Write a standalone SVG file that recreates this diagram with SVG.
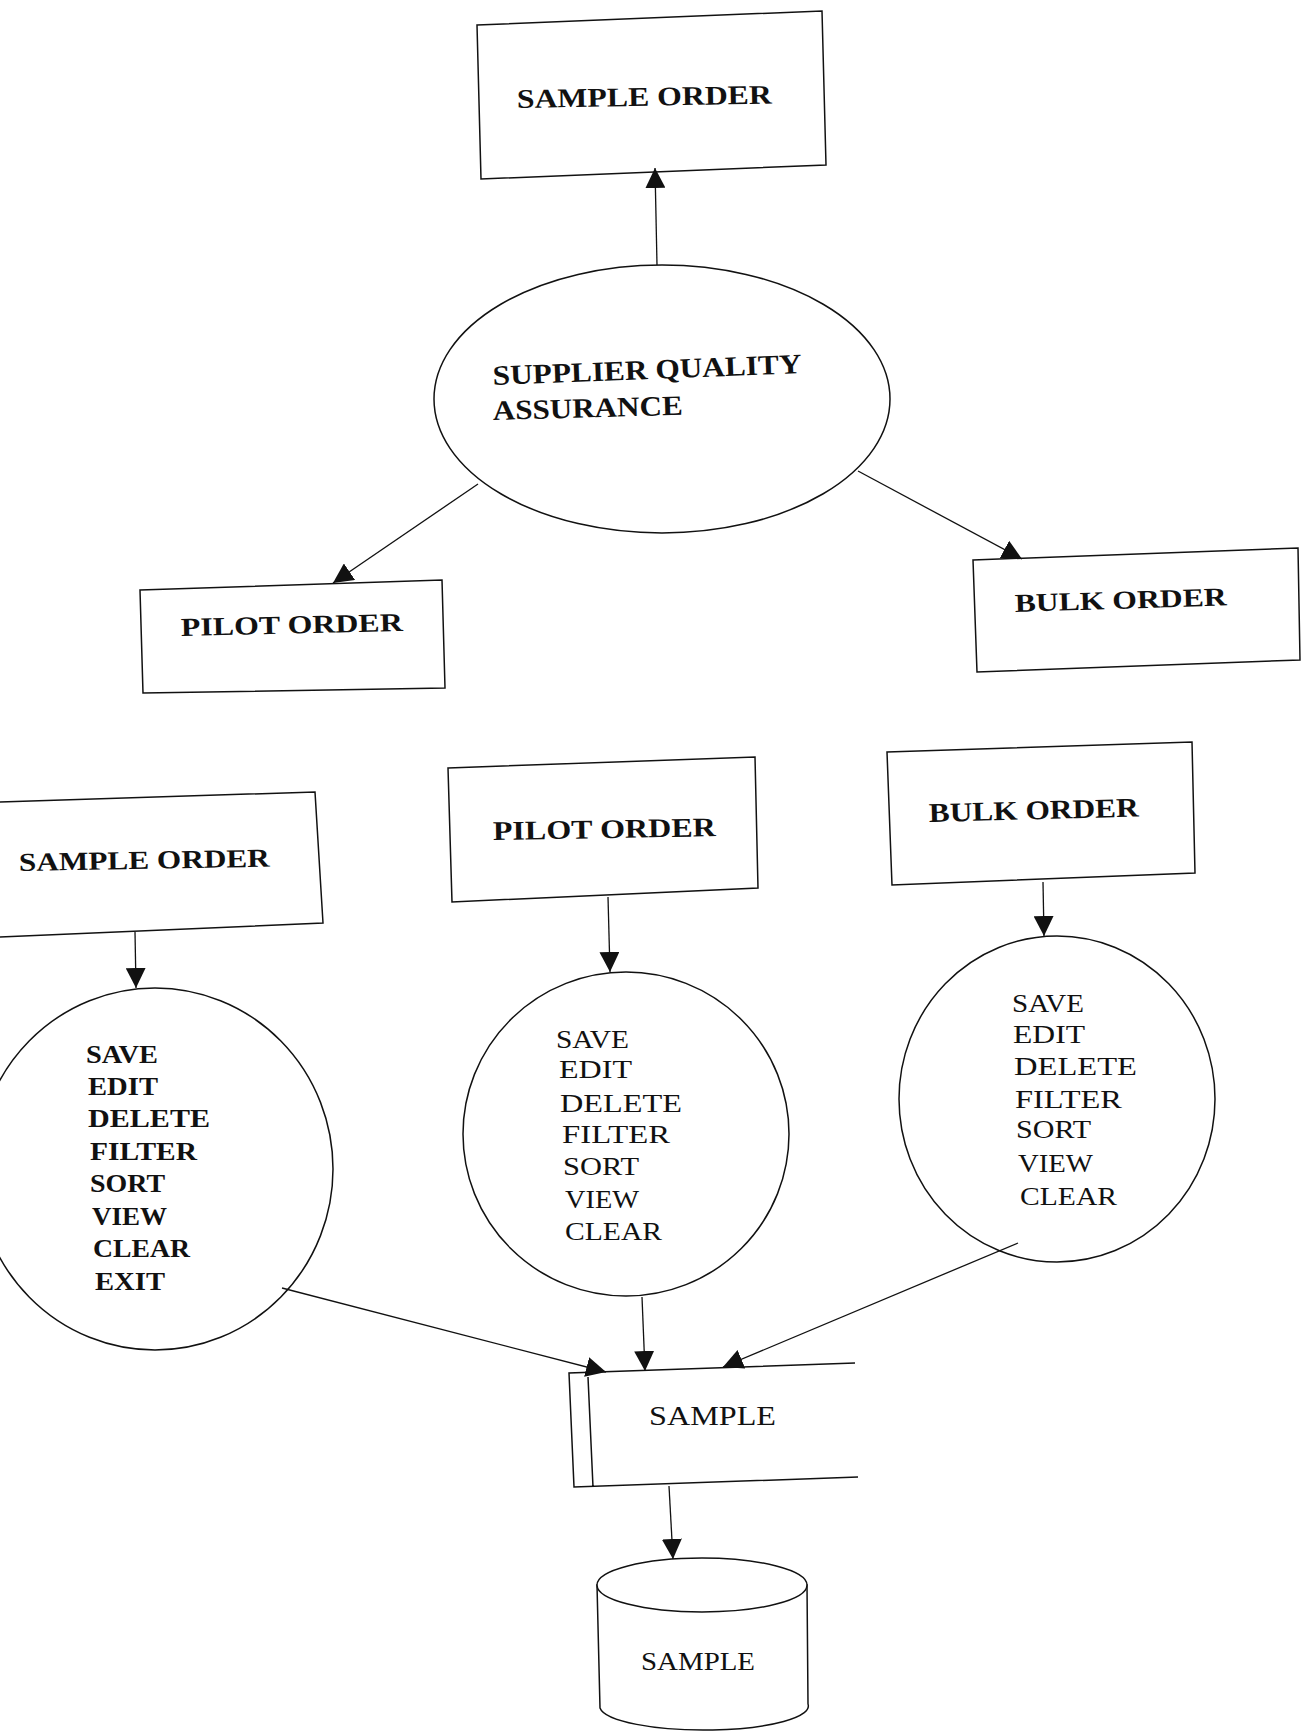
<svg xmlns="http://www.w3.org/2000/svg" width="1306" height="1734" viewBox="0 0 1306 1734">
  <style>
    .shape { fill: #fff; stroke: #111; stroke-width: 1.5; }
    .conn { fill: none; stroke: #111; stroke-width: 1.3; marker-end: url(#arrow); }
    .lbl { font-family: "Liberation Serif", "Times New Roman", serif; fill: #111; }
    .title { font-size: 27px; font-weight: bold; }
    .item { font-size: 25px; }
    .item-b { font-size: 25px; font-weight: bold; }
    .store { font-size: 28px; }
  </style>
  <defs>
    <marker id="arrow" markerUnits="userSpaceOnUse" markerWidth="20" markerHeight="20" refX="20" refY="10" orient="auto">
      <path d="M0,0 L20,10 L0,20 z" fill="#111"/>
    </marker>
  </defs>
  <rect width="1306" height="1734" fill="#fff"/>

  <!-- process nodes -->
  <g id="node-sample-order-top">
    <polygon class="shape" points="477,25 822,11 826,165 481,179"/>
    <text class="lbl title" x="517" y="108" textLength="255" lengthAdjust="spacingAndGlyphs" transform="rotate(-1 517 108)">SAMPLE ORDER</text>
  </g>

  <g id="node-sqa">
    <ellipse class="shape" cx="662" cy="399" rx="228" ry="134"/>
    <text class="lbl title" style="font-size:28px" x="493" y="385" textLength="309" lengthAdjust="spacingAndGlyphs" transform="rotate(-2.2 493 385)">SUPPLIER QUALITY</text>
    <text class="lbl title" style="font-size:28px" x="493" y="420" textLength="190" lengthAdjust="spacingAndGlyphs" transform="rotate(-1.6 493 420)">ASSURANCE</text>
  </g>

  <g id="node-pilot-order-top">
    <polygon class="shape" points="140,590 442,580 445,688 143,693"/>
    <text class="lbl title" style="font-size:26px" x="181" y="636" textLength="222" lengthAdjust="spacingAndGlyphs" transform="rotate(-1.3 181 636)">PILOT ORDER</text>
  </g>

  <g id="node-bulk-order-top">
    <polygon class="shape" points="973,560 1298,548 1300,660 977,672"/>
    <text class="lbl title" style="font-size:26px" x="1015" y="612" textLength="212" lengthAdjust="spacingAndGlyphs" transform="rotate(-1.8 1015 612)">BULK ORDER</text>
  </g>

  <g id="node-sample-order">
    <polygon class="shape" points="-2,802 315,792 323,923 -2,937"/>
    <text class="lbl title" style="font-size:26px" x="19" y="871" textLength="251" lengthAdjust="spacingAndGlyphs" transform="rotate(-1 19 871)">SAMPLE ORDER</text>
  </g>

  <g id="node-pilot-order">
    <polygon class="shape" points="448,768 755,757 758,888 452,902"/>
    <text class="lbl title" x="493" y="840" textLength="223" lengthAdjust="spacingAndGlyphs" transform="rotate(-1 493 840)">PILOT ORDER</text>
  </g>

  <g id="node-bulk-order">
    <polygon class="shape" points="887,752 1192,742 1195,873 892,885"/>
    <text class="lbl title" x="929" y="822" textLength="210" lengthAdjust="spacingAndGlyphs" transform="rotate(-1.5 929 822)">BULK ORDER</text>
  </g>

  <g id="node-sample-actions">
    <ellipse class="shape" cx="155" cy="1169" rx="178" ry="181"/>
    <text class="lbl item-b" x="86" y="1063" textLength="72" lengthAdjust="spacingAndGlyphs">SAVE</text>
    <text class="lbl item-b" x="88" y="1095" textLength="70" lengthAdjust="spacingAndGlyphs">EDIT</text>
    <text class="lbl item-b" x="88" y="1127" textLength="122" lengthAdjust="spacingAndGlyphs">DELETE</text>
    <text class="lbl item-b" x="90" y="1160" textLength="107" lengthAdjust="spacingAndGlyphs">FILTER</text>
    <text class="lbl item-b" x="90" y="1192" textLength="75" lengthAdjust="spacingAndGlyphs">SORT</text>
    <text class="lbl item-b" x="92" y="1225" textLength="75" lengthAdjust="spacingAndGlyphs">VIEW</text>
    <text class="lbl item-b" x="93" y="1257" textLength="97" lengthAdjust="spacingAndGlyphs">CLEAR</text>
    <text class="lbl item-b" x="95" y="1290" textLength="70" lengthAdjust="spacingAndGlyphs">EXIT</text>
  </g>

  <g id="node-pilot-actions">
    <ellipse class="shape" cx="626" cy="1134" rx="163" ry="162"/>
    <text class="lbl item" x="556" y="1048" textLength="73" lengthAdjust="spacingAndGlyphs">SAVE</text>
    <text class="lbl item" x="559" y="1078" textLength="73" lengthAdjust="spacingAndGlyphs">EDIT</text>
    <text class="lbl item" x="560" y="1112" textLength="122" lengthAdjust="spacingAndGlyphs">DELETE</text>
    <text class="lbl item" x="562" y="1143" textLength="108" lengthAdjust="spacingAndGlyphs">FILTER</text>
    <text class="lbl item" x="563" y="1175" textLength="76" lengthAdjust="spacingAndGlyphs">SORT</text>
    <text class="lbl item" x="565" y="1208" textLength="74" lengthAdjust="spacingAndGlyphs">VIEW</text>
    <text class="lbl item" x="565" y="1240" textLength="97" lengthAdjust="spacingAndGlyphs">CLEAR</text>
  </g>

  <g id="node-bulk-actions">
    <ellipse class="shape" cx="1057" cy="1099" rx="158" ry="163"/>
    <text class="lbl item" x="1012" y="1012" textLength="72" lengthAdjust="spacingAndGlyphs">SAVE</text>
    <text class="lbl item" x="1013" y="1043" textLength="72" lengthAdjust="spacingAndGlyphs">EDIT</text>
    <text class="lbl item" x="1014" y="1075" textLength="123" lengthAdjust="spacingAndGlyphs">DELETE</text>
    <text class="lbl item" x="1015" y="1108" textLength="107" lengthAdjust="spacingAndGlyphs">FILTER</text>
    <text class="lbl item" x="1016" y="1138" textLength="75" lengthAdjust="spacingAndGlyphs">SORT</text>
    <text class="lbl item" x="1018" y="1172" textLength="75" lengthAdjust="spacingAndGlyphs">VIEW</text>
    <text class="lbl item" x="1020" y="1205" textLength="97" lengthAdjust="spacingAndGlyphs">CLEAR</text>
  </g>

  <!-- open-ended data store -->
  <g id="node-sample-store">
    <path fill="#fff" stroke="none" d="M569,1373 L855,1363 L858,1477 L574,1487 z"/>
    <path fill="none" stroke="#111" stroke-width="1.5" d="M855,1363 L569,1373 L574,1487 L858,1477 M588,1377 L593,1487"/>
    <text class="lbl store" x="649" y="1425" textLength="127" lengthAdjust="spacingAndGlyphs">SAMPLE</text>
  </g>

  <!-- database cylinder -->
  <g id="node-sample-db">
    <path class="shape" d="M597,1585 L600,1708 A104 24 0 0 0 808,1704 L807,1585 z"/>
    <ellipse class="shape" cx="702" cy="1585" rx="105" ry="27"/>
    <text class="lbl" style="font-size:26px" x="641" y="1670" textLength="114" lengthAdjust="spacingAndGlyphs">SAMPLE</text>
  </g>

  <!-- connectors -->
  <g id="connectors">
    <line class="conn" x1="657" y1="265" x2="655" y2="168"/>
    <line class="conn" x1="478" y1="484" x2="333" y2="583"/>
    <line class="conn" x1="858" y1="471" x2="1022" y2="559"/>
    <line class="conn" x1="135" y1="932" x2="136" y2="988"/>
    <line class="conn" x1="608" y1="897" x2="610" y2="972"/>
    <line class="conn" x1="1043" y1="882" x2="1044" y2="936"/>
    <line class="conn" x1="282" y1="1288" x2="606" y2="1372"/>
    <line class="conn" x1="642" y1="1297" x2="645" y2="1371"/>
    <line class="conn" x1="1018" y1="1243" x2="723" y2="1367"/>
    <line class="conn" x1="669" y1="1486" x2="673" y2="1559"/>
  </g>
</svg>
